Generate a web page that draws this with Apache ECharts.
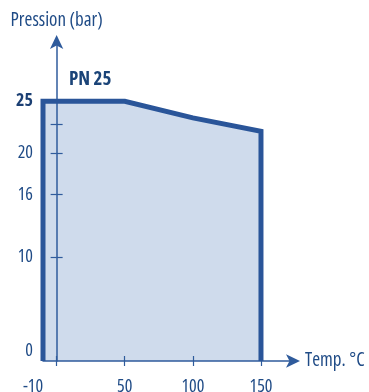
<!DOCTYPE html>
<html>
<head>
<meta charset="utf-8">
<script src="https://cdn.jsdelivr.net/npm/echarts@6/dist/echarts.min.js"></script>
<style>
html,body{margin:0;padding:0;background:#fff;}
#c{width:369px;height:392px;}
</style>
</head>
<body>
<div id="c"></div>
<script>
var temps = [-10, -10, 50, 100, 150, 150];
var pressures = [0, 25, 25, 23.4, 22.1, 0];
var xTickLabels = [-10, 50, 100, 150];
var xTickMarks = [0, 50, 100, 150];
var yTickLabels = [0, 10, 16, 20, 25];
var yTickMarks = [10, 16, 20, 22.8];
var yName = 'Pression (bar)';
var xName = 'Temp. °C';
var seriesLabel = 'PN 25';

var FONT = "'Open Sans', 'Liberation Sans', Arial, sans-serif";
var W = 'condensed';
var WB = 'bold condensed';
var LINE = '#2a5599';
var AXIS = '#2f5b9c';
var TEXT = '#1f4b86';

var chart = echarts.init(document.getElementById('c'));
var data = temps.map(function (t, i) { return [t, pressures[i]]; });

var xBase = {type: 'value', min: -10, max: 173.5, splitLine: {show: false}, z: 2};
var yBase = {type: 'value', min: 0, max: 30.7, splitLine: {show: false}, z: 2};

chart.setOption({
  animation: false,
  grid: {left: 43, right: 76, top: 42, bottom: 31, containLabel: false, outerBoundsMode: 'none'},
  xAxis: [
    Object.assign({}, xBase, {
      position: 'bottom',
      name: xName, nameLocation: 'end', nameGap: 12,
      nameTextStyle: {color: TEXT, fontFamily: FONT, fontSize: 19, fontWeight: W, verticalAlign: 'middle'},
      axisLine: {show: true, onZero: false, lineStyle: {color: AXIS, width: 1.5},
        symbol: ['none', 'arrow'], symbolSize: [10, 14], symbolOffset: [0, 7]},
      axisTick: {show: true, length: 5, lineStyle: {color: AXIS, width: 1.2}, customValues: xTickMarks},
      axisLabel: {show: true, color: TEXT, fontFamily: FONT, fontSize: 18, fontWeight: W, margin: 17,
        customValues: xTickLabels,
        formatter: function (v) { return v < 0 ? '{n|' + v + '}' : String(v); },
        rich: {n: {color: TEXT, fontFamily: FONT, fontSize: 18, fontWeight: W, padding: [0, 20, 0, 0]}}
      }
    }),
    Object.assign({}, xBase, {
      position: 'top', offset: -(392 - 42 - 31),
      axisLine: {show: false},
      axisTick: {show: true, length: 5, lineStyle: {color: AXIS, width: 1.2}, customValues: xTickMarks},
      axisLabel: {show: false}
    })
  ],
  yAxis: [
    Object.assign({}, yBase, {
      position: 'left',
      name: yName, nameLocation: 'end', nameGap: 12,
      nameTextStyle: {color: TEXT, fontFamily: FONT, fontSize: 19, fontWeight: W, align: 'center'},
      axisLine: {show: true, onZero: true, lineStyle: {color: AXIS, width: 1.5},
        symbol: ['none', 'arrow'], symbolSize: [10, 14], symbolOffset: [0, 7]},
      axisTick: {show: true, length: 6, lineStyle: {color: AXIS, width: 1.2}, customValues: yTickMarks},
      axisLabel: {show: true, color: TEXT, fontFamily: FONT, fontSize: 18, fontWeight: W, margin: 10,
        customValues: yTickLabels,
        formatter: function (v) {
          if (v === 25) return '{b|' + v + '}';
          if (v === 0) return '{z|' + v + '}';
          return String(v);
        },
        rich: {
          b: {fontWeight: WB, color: '#1b3f73', fontFamily: FONT, fontSize: 18},
          z: {color: TEXT, fontFamily: FONT, fontSize: 18, fontWeight: W, padding: [0, 0, 20, 0]}
        }
      }
    }),
    Object.assign({}, yBase, {
      position: 'right',
      axisLine: {show: false, onZero: true},
      axisTick: {show: true, length: 6, lineStyle: {color: AXIS, width: 1.2}, customValues: yTickMarks},
      axisLabel: {show: false}
    })
  ],
  graphic: [{
    type: 'text', left: 69, top: 70, z: 10,
    style: {text: seriesLabel, fill: '#1b4478', fontFamily: FONT, fontSize: 19, fontWeight: WB}
  }],
  series: [{
    type: 'line', xAxisIndex: 0, yAxisIndex: 0,
    data: data, symbol: 'none',
    lineStyle: {width: 0, opacity: 0},
    areaStyle: {color: '#cfdbec', opacity: 1},
    z: 1
  }, {
    type: 'line', xAxisIndex: 0, yAxisIndex: 0,
    data: data, symbol: 'none',
    lineStyle: {color: LINE, width: 5, join: 'miter'},
    z: 3
  }]
});
</script>
</body>
</html>
